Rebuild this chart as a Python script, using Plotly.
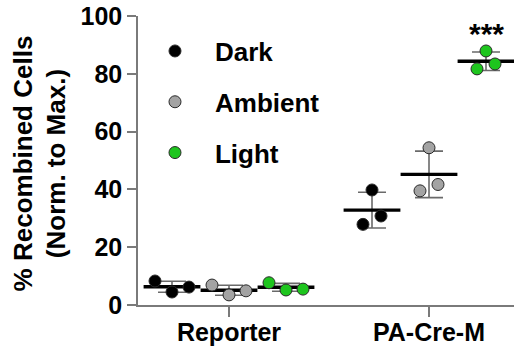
import numpy as np
import plotly.graph_objects as go

categories = ["Reporter", "PA-Cre-M"]
conditions = ["Dark", "Ambient", "Light"]
# values per condition: [Reporter points], [PA-Cre-M points]
dark = [[8.3, 4.5, 6.2], [27.9, 39.8, 30.8]]
ambient = [[6.9, 3.5, 4.9], [39.5, 54.4, 41.7]]
light = [[7.7, 5.2, 5.5], [81.7, 87.9, 83.4]]
series = [dark, ambient, light]
colors = ["#000000", "#a3a3a3", "#1ec51e"]
y_ticks = [0, 20, 40, 60, 80, 100]
significance = "***"

# styling (positions in category units)
group_offsets = [-0.285, 0.0, 0.285]
jitter = [[-0.085, 0.0, 0.085], [-0.045, 0.0, 0.045]]
mean_half = 0.142

FONT = "Liberation Sans"
fig = go.Figure()

# error bars (SD)
for ci, ser in enumerate(series):
    xs, ms, sds = [], [], []
    for k, vals in enumerate(ser):
        xs.append(k + group_offsets[ci])
        ms.append(float(np.mean(vals)))
        sds.append(float(np.std(vals, ddof=1)))
    fig.add_trace(go.Scatter(
        x=xs, y=ms, mode="markers", marker=dict(size=1, color="rgba(0,0,0,0)"),
        error_y=dict(type="data", array=sds, visible=True, color="#6a6a6a",
                     thickness=1.6, width=14),
        showlegend=False, hoverinfo="skip"))

# mean lines
for ci, ser in enumerate(series):
    for k, vals in enumerate(ser):
        c = k + group_offsets[ci]
        m = float(np.mean(vals))
        fig.add_trace(go.Scatter(
            x=[c - mean_half, c + mean_half], y=[m, m], mode="lines",
            line=dict(color="#000000", width=3.4), showlegend=False,
            hoverinfo="skip"))

# points
for ci, ser in enumerate(series):
    xs, ys = [], []
    for k, vals in enumerate(ser):
        for j, v in enumerate(vals):
            xs.append(k + group_offsets[ci] + jitter[k][j])
            ys.append(v)
    fig.add_trace(go.Scatter(
        x=xs, y=ys, mode="markers", name=conditions[ci],
        legendgroup=conditions[ci],
        marker=dict(size=12, color=colors[ci],
                    line=dict(color="#2a2a2a", width=1))))

fig.add_annotation(
    x=1 + group_offsets[2], y=float(np.max(light[1])), yshift=17,
    text=significance, showarrow=False,
    font=dict(family=FONT, size=30, color="black", weight="bold"))

fig.add_annotation(
    xref="paper", yref="paper", x=-98 / 376, y=0.49,
    text="% Recombined Cells<br>(Norm. to Max.)", textangle=-90,
    showarrow=False, xanchor="center", yanchor="middle",
    font=dict(family=FONT, size=26, color="black", weight="bold"))

fig.update_layout(
    width=514, height=348,
    margin=dict(l=138, r=0, t=16, b=43),
    plot_bgcolor="white", paper_bgcolor="white",
    font=dict(family=FONT, size=25, color="black", weight="bold"),
    legend=dict(x=-0.008, y=0.96, xanchor="left", yanchor="top",
                tracegroupgap=14, itemwidth=70, bgcolor="rgba(0,0,0,0)",
                traceorder="grouped",
                font=dict(family=FONT, size=26, color="black", weight="bold")),
    xaxis=dict(range=[-0.455, 1.425], tickvals=[0, 1], ticktext=categories,
               automargin=False, ticklabelstandoff=-6,
               showgrid=False, zeroline=False, showline=True,
               linecolor="#7a7a7a", linewidth=1.5, ticks="outside",
               ticklen=10, tickwidth=1.5, tickcolor="#7a7a7a",
               tickfont=dict(family=FONT, size=25, color="black", weight="bold")),
    yaxis=dict(range=[0, 100], tickvals=y_ticks, showgrid=False,
               automargin=False,
               zeroline=False, showline=True, linecolor="#7a7a7a",
               linewidth=1.5, ticks="outside", ticklen=9, tickwidth=1.5,
               tickcolor="#7a7a7a",
               tickfont=dict(family=FONT, size=25, color="black", weight="bold")),
)
fig.write_html("out.html")
